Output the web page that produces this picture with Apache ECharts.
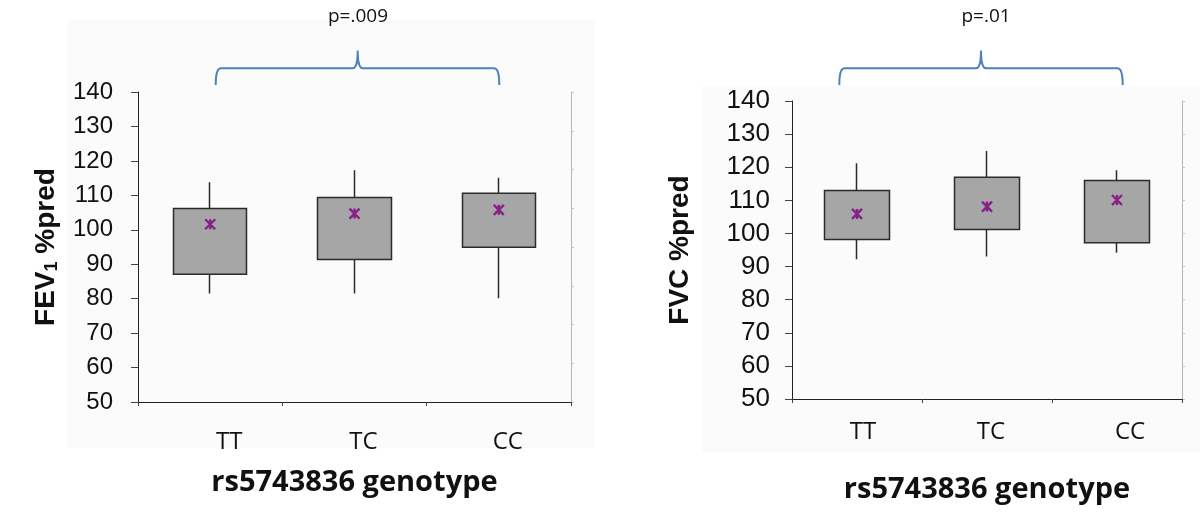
<!DOCTYPE html>
<html><head><meta charset="utf-8">
<script src="https://cdn.jsdelivr.net/npm/echarts@6/dist/echarts.min.js"></script>
<style>html,body{margin:0;padding:0;background:#fff}#c{width:1200px;height:513px}</style>
</head><body><div id="c"></div>
<script>
const categories = ['TT', 'TC', 'CC'];
// FEV1 %pred
const fevMin = [81.5, 81.5, 80.1];
const fevQ1 = [87.1, 91.4, 94.9];
const fevQ3 = [106.2, 109.4, 110.6];
const fevMax = [113.8, 117.3, 115.1];
const fevMean = [101.6, 104.7, 105.8];
// FVC %pred
const fvcMin = [92.2, 93.0, 94.2];
const fvcQ1 = [98.2, 101.2, 97.2];
const fvcQ3 = [113.0, 117.0, 116.0];
const fvcMax = [121.2, 124.9, 119.1];
const fvcMean = [105.9, 108.1, 110.1];
const yMin = 50, yMax = 140, yStep = 10;
const pLeft = 'p=.009', pRight = 'p=.01';
const xTitle = 'rs5743836 genotype';

const chart = echarts.init(document.getElementById('c'));
const tickFont = {fontFamily: 'Liberation Sans', color: '#111'};
function candle(q1, q3, lo, hi) { return q1.map((v, i) => [v, q3[i], lo[i], hi[i]]); }
const starPath = 'path://M0,0L10,10M10,0L0,10M5,0L5,10';

function quad(p0, p1, p2, n) {
  const out = [];
  for (let i = 1; i <= n; i++) {
    const t = i / n, u = 1 - t;
    out.push([u * u * p0[0] + 2 * u * t * p1[0] + t * t * p2[0], u * u * p0[1] + 2 * u * t * p1[1] + t * t * p2[1]]);
  }
  return out;
}
function bracket(x0, xm, x1, yLine, yTop, yEnd) {
  const r = 5;
  let pts = [[x0, yEnd]];
  pts = pts.concat(quad([x0, yEnd], [x0, yLine], [x0 + r, yLine], 6));
  pts.push([xm - r, yLine]);
  pts = pts.concat(quad([xm - r, yLine], [xm, yLine], [xm, yTop], 6));
  pts = pts.concat(quad([xm, yTop], [xm, yLine], [xm + r, yLine], 6));
  pts.push([x1 - r, yLine]);
  pts = pts.concat(quad([x1 - r, yLine], [x1, yLine], [x1, yEnd], 6));
  return pts;
}

function xAx(grid, shifts, margin, gap) {
  const rich = {};
  shifts.forEach((s, i) => { rich['c' + i] = {fontFamily: 'Open Sans', fontSize: 24, color: '#111', padding: [0, 0, 0, 2 * s]}; });
  return {
    type: 'category', gridIndex: grid, data: categories, boundaryGap: true,
    axisLine: {lineStyle: {color: '#222', width: 1}},
    axisTick: {show: true, length: 4, alignWithLabel: false, lineStyle: {color: '#444'}},
    axisLabel: {fontFamily: 'Open Sans', fontSize: 24, color: '#111', margin: margin,
      formatter: (v, i) => '{c' + i + '|' + v + '}', rich: rich},
    name: xTitle, nameLocation: 'middle', nameGap: gap,
    nameTextStyle: {fontFamily: 'Open Sans', fontWeight: 'bold', fontSize: 29, color: '#111'}
  };
}
function yAx(grid, fs, margin, name, gap) {
  return {
    type: 'value', gridIndex: grid, min: yMin, max: yMax, interval: yStep,
    axisLine: {show: true, lineStyle: {color: '#222', width: 1}},
    axisTick: {show: true, length: 7, lineStyle: {color: '#444'}},
    splitLine: {show: false},
    axisLabel: Object.assign({fontSize: fs, margin: margin}, tickFont),
    name: name, nameLocation: 'middle', nameRotate: 90, nameGap: gap,
    nameTextStyle: {fontFamily: 'Liberation Sans', fontWeight: 'bold', fontSize: 28, color: '#111',
      rich: {
        a: {fontFamily: 'Liberation Sans', fontWeight: 'bold', fontSize: 28, color: '#111'},
        sub: {fontFamily: 'Liberation Sans', fontWeight: 'bold', fontSize: 18, color: '#111', verticalAlign: 'bottom', padding: [12, 0, 0, 0]}
      }}
  };
}
function y2(grid, n) {
  return {
    type: 'value', gridIndex: grid, position: 'right', min: 0, max: n, interval: 1,
    axisLine: {show: true, lineStyle: {color: '#b4b4b4', width: 1}},
    axisTick: {show: true, length: 3, lineStyle: {color: '#c4c4c4'}},
    axisLabel: {show: false}, splitLine: {show: false}
  };
}

const option = {
  animation: false,
  backgroundColor: '#ffffff',
  grid: [
    {left: 138, top: 92, width: 433, height: 310},
    {left: 792, top: 101, width: 390, height: 298}
  ],
  xAxis: [xAx(0, [19, 9, 9], 28, 66), xAx(1, [6, 4, 13], 21, 76)],
  yAxis: [
    yAx(0, 24, 25, '{a|FEV}{sub|1}{a| %pred}', 77),
    yAx(1, 26, 22, 'FVC %pred', 98),
    y2(0, 8), y2(1, 9)
  ],
  graphic: [
    {type: 'rect', z: -10, shape: {x: 67, y: 20, width: 528, height: 428}, style: {fill: '#fbfbfb'}},
    {type: 'rect', z: -10, shape: {x: 702, y: 85, width: 498, height: 367}, style: {fill: '#fbfbfb'}},
    {type: 'polyline', shape: {points: bracket(215.7, 357.7, 499.3, 68.3, 50.5, 85)},
      style: {fill: null, stroke: '#4f81bd', lineWidth: 2}},
    {type: 'polyline', shape: {points: bracket(839.3, 981, 1122.7, 68.3, 50.5, 85)},
      style: {fill: null, stroke: '#4f81bd', lineWidth: 2}},
    {type: 'text', style: {x: 358, y: 17, text: pLeft, textAlign: 'center', textVerticalAlign: 'middle', fontFamily: 'Open Sans', fontSize: 19, fill: '#111'}},
    {type: 'text', style: {x: 986, y: 17, text: pRight, textAlign: 'center', textVerticalAlign: 'middle', fontFamily: 'Open Sans', fontSize: 19, fill: '#111'}}
  ],
  series: [
    {type: 'candlestick', xAxisIndex: 0, yAxisIndex: 0, barWidth: '51%',
      data: candle(fevQ1, fevQ3, fevMin, fevMax),
      itemStyle: {color: '#a6a6a6', color0: '#a6a6a6', borderColor: '#2b2b2b', borderColor0: '#2b2b2b', borderWidth: 1.5}},
    {type: 'candlestick', xAxisIndex: 1, yAxisIndex: 1, barWidth: '51%',
      data: candle(fvcQ1, fvcQ3, fvcMin, fvcMax),
      itemStyle: {color: '#a6a6a6', color0: '#a6a6a6', borderColor: '#2b2b2b', borderColor0: '#2b2b2b', borderWidth: 1.5}},
    {type: 'scatter', xAxisIndex: 0, yAxisIndex: 0, data: fevMean, symbol: starPath, symbolSize: [10, 10],
      itemStyle: {color: '#7f007f', borderColor: '#7f007f', borderWidth: 2.4}, z: 5},
    {type: 'scatter', xAxisIndex: 1, yAxisIndex: 1, data: fvcMean, symbol: starPath, symbolSize: [10, 10],
      itemStyle: {color: '#7f007f', borderColor: '#7f007f', borderWidth: 2.4}, z: 5}
  ]
};
chart.setOption(option);
</script>
</body></html>
